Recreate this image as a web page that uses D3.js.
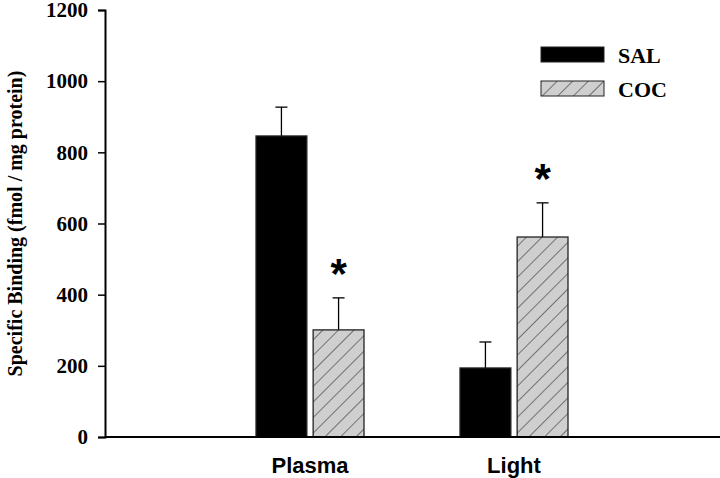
<!DOCTYPE html>
<html><head><meta charset="utf-8">
<script src="https://cdn.jsdelivr.net/npm/d3@7"></script>
<style>body{margin:0;background:#fff}</style>
</head><body>
<div id="chart"></div>
<script>
const regions = ['Plasma', 'Light'];
const groups = ['SAL', 'COC'];
const salValues = [846, 194];
const cocValues = [301, 562];
const salErrors = [81, 73];
const cocErrors = [90, 96];
const significant = [[false, true], [false, true]];
const yTicks = [0, 200, 400, 600, 800, 1000, 1200];

const width = 720, height = 478;
const margin = { top: 10, right: 0, bottom: 41, left: 105 };
const serif = '"Liberation Serif", "Times New Roman", serif';
const sans = 'Arial, "Liberation Sans", sans-serif';

const svg = d3.select('#chart').append('svg')
    .attr('width', width).attr('height', height);

const defs = svg.append('defs');
const pat = defs.append('pattern').attr('id', 'hatch')
    .attr('patternUnits', 'userSpaceOnUse').attr('width', 11).attr('height', 11)
    .attr('patternTransform', 'rotate(45)');
pat.append('rect').attr('width', 11).attr('height', 11).attr('fill', '#cfcfcf');
pat.append('line').attr('x1', 0).attr('y1', 0).attr('x2', 0).attr('y2', 11)
    .attr('stroke', '#333').attr('stroke-width', 1.2);

const yScale = d3.scaleLinear().domain([0, 1200]).range([height - margin.bottom, margin.top]);
const xScale = d3.scaleBand().domain(regions).range([208, 616]);
const xInner = d3.scaleBand().domain(groups).range([-54, 54]).paddingInner(0.11);

const data = regions.map((r, i) => ({
    region: r,
    bars: [
        { g: 'SAL', v: salValues[i], e: salErrors[i], sig: significant[i][0] },
        { g: 'COC', v: cocValues[i], e: cocErrors[i], sig: significant[i][1] }
    ]
}));

const grp = svg.selectAll('.grp').data(data).enter().append('g')
    .attr('transform', d => `translate(${xScale(d.region) + xScale.bandwidth() / 2},0)`);

const bar = grp.selectAll('.bar').data(d => d.bars).enter().append('g');
// error bars
bar.append('line')
    .attr('x1', d => xInner(d.g) + xInner.bandwidth() / 2)
    .attr('x2', d => xInner(d.g) + xInner.bandwidth() / 2)
    .attr('y1', d => yScale(d.v)).attr('y2', d => yScale(d.v + d.e))
    .attr('stroke', '#000').attr('stroke-width', 1.3);
bar.append('line')
    .attr('x1', d => xInner(d.g) + xInner.bandwidth() / 2 - 6)
    .attr('x2', d => xInner(d.g) + xInner.bandwidth() / 2 + 6)
    .attr('y1', d => yScale(d.v + d.e)).attr('y2', d => yScale(d.v + d.e))
    .attr('stroke', '#000').attr('stroke-width', 1.3);
bar.append('rect')
    .attr('x', d => xInner(d.g)).attr('width', xInner.bandwidth())
    .attr('y', d => yScale(d.v)).attr('height', d => yScale(0) - yScale(d.v))
    .attr('fill', d => d.g === 'SAL' ? '#000' : 'url(#hatch)')
    .attr('stroke', '#222').attr('stroke-width', 1.3);
bar.filter(d => d.sig).append('text')
    .attr('x', d => xInner(d.g) + xInner.bandwidth() / 2)
    .attr('y', d => yScale(d.v + d.e) - 10)
    .attr('text-anchor', 'middle')
    .attr('font-family', sans).attr('font-weight', 'bold').attr('font-size', 42)
    .text('*');

// x axis line
svg.append('line').attr('x1', margin.left).attr('x2', width)
    .attr('y1', yScale(0)).attr('y2', yScale(0))
    .attr('stroke', '#000').attr('stroke-width', 2);
svg.selectAll('.xl').data(regions).enter().append('text')
    .attr('x', d => xScale(d) + xScale.bandwidth() / 2)
    .attr('y', yScale(0) + 36)
    .attr('text-anchor', 'middle')
    .attr('font-family', sans).attr('font-weight', 'bold').attr('font-size', 22)
    .text(d => d);

// y axis
const yAxis = svg.append('g').attr('transform', `translate(${margin.left},0)`)
    .call(d3.axisLeft(yScale).tickValues(yTicks).tickFormat(d3.format('d')).tickSize(7).tickPadding(10));
yAxis.select('.domain').attr('stroke-width', 2);
yAxis.selectAll('.tick line').attr('stroke-width', 1.5);
yAxis.selectAll('text')
    .attr('font-family', serif).attr('font-weight', 'bold').attr('font-size', 21).attr('fill', '#000');

svg.append('text')
    .attr('transform', `translate(22,${(margin.top + yScale(0)) / 2}) rotate(-90)`)
    .attr('text-anchor', 'middle')
    .attr('font-family', serif).attr('font-weight', 'bold').attr('font-size', 20)
    .text('Specific Binding (fmol / mg protein)');

// legend
const legend = svg.append('g').attr('transform', 'translate(541,47)');
const li = legend.selectAll('g').data(groups).enter().append('g')
    .attr('transform', (d, i) => `translate(0,${i * 34})`);
li.append('rect').attr('width', 63).attr('height', 15)
    .attr('fill', d => d === 'SAL' ? '#000' : 'url(#hatch)')
    .attr('stroke', '#222').attr('stroke-width', 1);
li.append('text').attr('x', 77).attr('y', 16)
    .attr('font-family', serif).attr('font-weight', 'bold').attr('font-size', 22)
    .text(d => d);
</script>
</body></html>
